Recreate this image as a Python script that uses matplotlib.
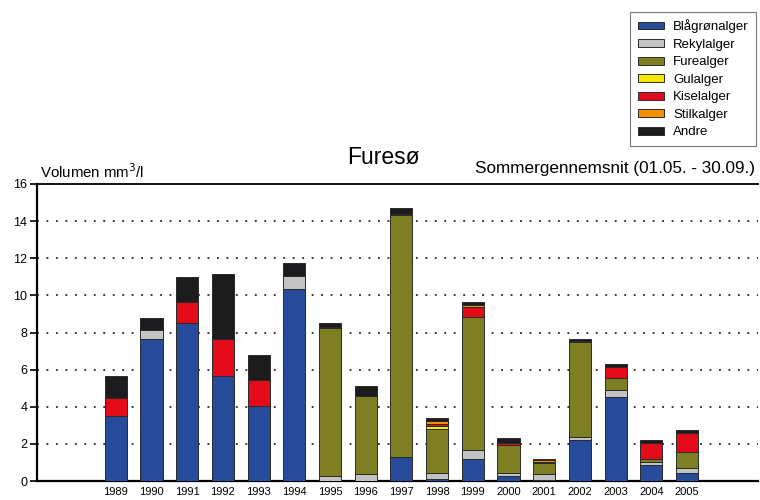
import numpy as np
import matplotlib
matplotlib.use('Agg')
import matplotlib.pyplot as plt

years = list(range(1989, 2006))

# cumulative tops, converted to layer heights below
blaagroen_top = [3.48, 7.67, 8.53, 5.65, 4.05, 10.36, 0.0, 0.0, 1.27, 0.10, 1.16, 0.27, 0.05, 2.20, 4.53, 0.84, 0.41]
rekyl_top     = [3.48, 8.12, 8.53, 5.65, 4.05, 11.04, 0.27, 0.38, 1.27, 0.41, 1.67, 0.45, 0.36, 2.35, 4.89, 1.02, 0.68]
fure_top      = [3.48, 8.12, 8.53, 5.65, 4.05, 11.04, 8.24, 4.57, 14.34, 2.79, 8.85, 1.94, 0.95, 7.47, 5.54, 1.16, 1.58]
gul_top       = [3.48, 8.12, 8.53, 5.65, 4.05, 11.04, 8.24, 4.57, 14.34, 2.98, 8.85, 1.94, 0.95, 7.47, 5.54, 1.16, 1.58]
kisel_top     = [4.48, 8.12, 9.62, 7.65, 5.43, 11.04, 8.27, 4.59, 14.36, 3.07, 9.36, 2.03, 1.04, 7.54, 6.16, 2.06, 2.56]
stilk_top     = [4.48, 8.12, 9.62, 7.65, 5.43, 11.04, 8.27, 4.59, 14.36, 3.23, 9.48, 2.03, 1.11, 7.54, 6.16, 2.06, 2.56]
andre_top     = [5.68, 8.78, 10.99, 11.16, 6.79, 11.77, 8.49, 5.11, 14.70, 3.38, 9.66, 2.30, 1.18, 7.63, 6.31, 2.20, 2.74]

names = ['Blågrønalger', 'Rekylalger', 'Furealger', 'Gulalger', 'Kiselalger', 'Stilkalger', 'Andre']
colors = ['#274a9b', '#c3c3c3', '#7d7f22', '#f6e800', '#e30a1a', '#f39200', '#1c1c1e']

tops = np.array([blaagroen_top, rekyl_top, fure_top, gul_top, kisel_top, stilk_top, andre_top])
heights = np.diff(np.vstack([np.zeros(len(years)), tops]), axis=0)

plt.rcParams['font.family'] = ['Liberation Sans', 'DejaVu Sans']

fig = plt.figure(figsize=(7.6, 5.0), dpi=100)
ax = fig.add_axes([0.049, 0.038, 0.949, 0.594])

bottom = np.zeros(len(years))
handles = []
for h, c, n in zip(heights, colors, names):
    b = ax.bar(years, h, bottom=bottom, width=0.62, color=c, edgecolor='#2a2a2a',
               linewidth=0.7, label=n, zorder=3)
    handles.append(b)
    bottom += h

ax.set_xlim(1986.8, 2007.0)
ax.set_ylim(0, 16)
ax.set_yticks(range(0, 17, 2))
ax.set_xticks(years)
ax.set_xticklabels([str(y) for y in years], fontsize=8)
ax.tick_params(axis='x', length=0, pad=4)
ax.tick_params(axis='y', direction='out', length=5, width=1.2, labelsize=9, pad=2)
for y in range(2, 16, 2):
    ax.axhline(y, color='black', linestyle=(0, (1.2, 5)), linewidth=1.1, zorder=1)

ax.spines['right'].set_visible(False)
ax.spines['left'].set_linewidth(1.6)
ax.spines['bottom'].set_linewidth(1.6)
ax.spines['top'].set_linewidth(1.3)

fig.text(0.504, 0.686, 'Furesø', ha='center', va='center', fontsize=16.5)
fig.text(0.993, 0.664, 'Sommergennemsnit (01.05. - 30.09.)', ha='right', va='center', fontsize=12.3)
fig.text(0.052, 0.656, 'Volumen mm$^3$/l', ha='left', va='center', fontsize=10.8)

leg = fig.legend(handles=handles, labels=names, loc='upper right',
                 bbox_to_anchor=(0.995, 0.976), fontsize=9.5, frameon=True,
                 fancybox=False, edgecolor='#555555', handlelength=2.0,
                 handleheight=0.55, handletextpad=0.7, labelspacing=0.42,
                 borderpad=0.55, borderaxespad=0)
leg.get_frame().set_linewidth(0.8)

fig.savefig('out.png', dpi=100)
